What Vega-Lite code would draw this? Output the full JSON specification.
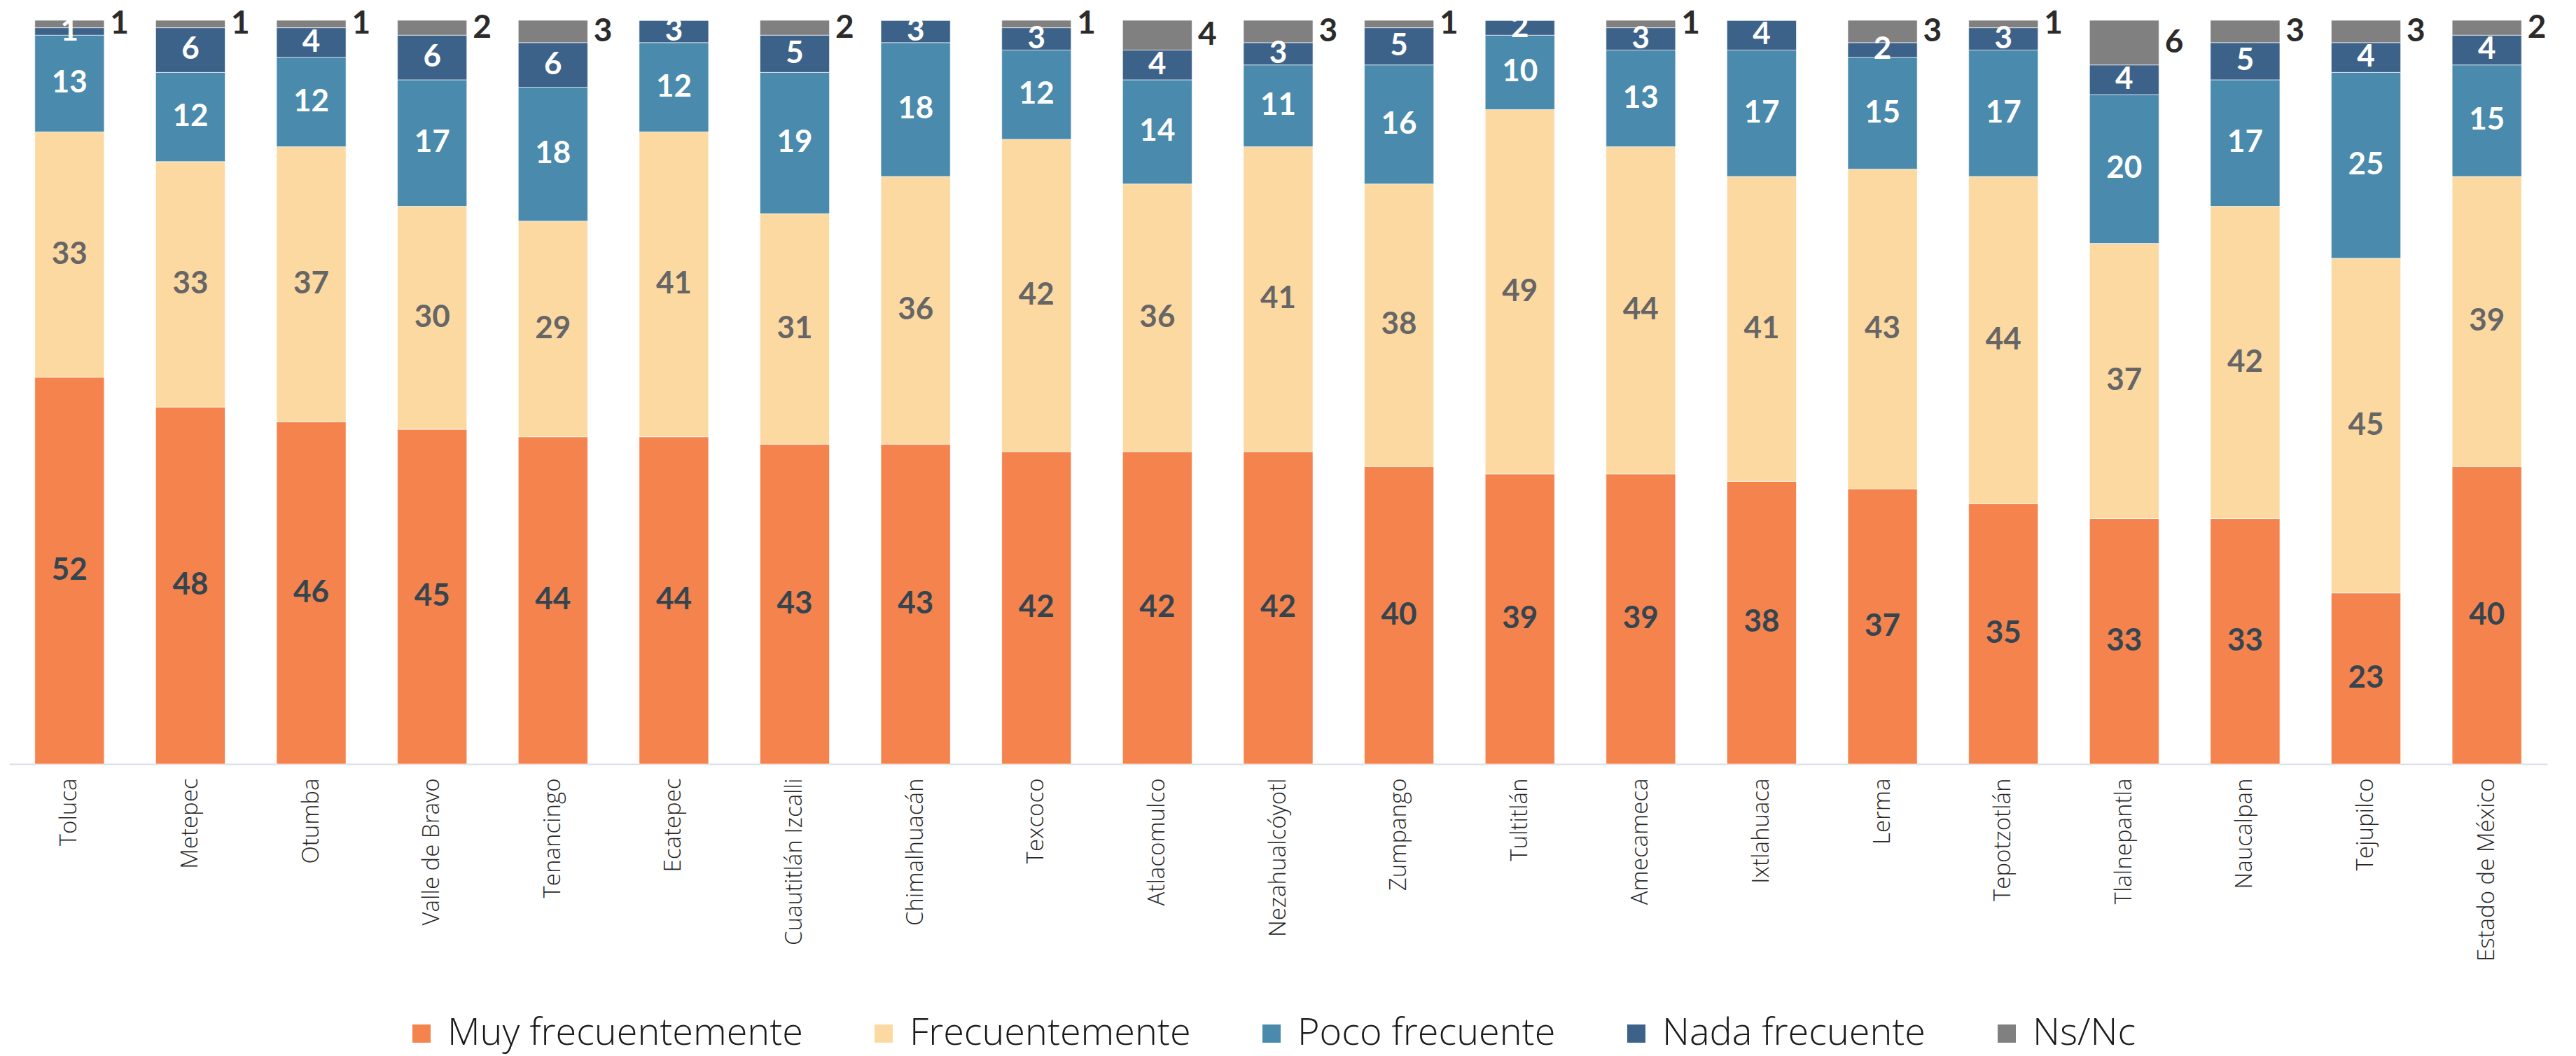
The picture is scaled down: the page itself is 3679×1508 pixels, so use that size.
{
  "$schema": "https://vega.github.io/schema/vega-lite/v6.json",
  "width": 3625,
  "height": 1062,
  "autosize": {"type": "none"},
  "padding": {"left": 13, "top": 29, "right": 41, "bottom": 417},
  "background": "white",
  "config": {
    "view": {"stroke": null},
    "font": "Lato",
    "axis": {"grid": false}
  },
  "data": {
    "values": [
      {"m": "Toluca", "Muy frecuentemente": 52, "Frecuentemente": 33, "Poco frecuente": 13, "Nada frecuente": 1, "Ns/Nc": 1},
      {"m": "Metepec", "Muy frecuentemente": 48, "Frecuentemente": 33, "Poco frecuente": 12, "Nada frecuente": 6, "Ns/Nc": 1},
      {"m": "Otumba", "Muy frecuentemente": 46, "Frecuentemente": 37, "Poco frecuente": 12, "Nada frecuente": 4, "Ns/Nc": 1},
      {"m": "Valle de Bravo", "Muy frecuentemente": 45, "Frecuentemente": 30, "Poco frecuente": 17, "Nada frecuente": 6, "Ns/Nc": 2},
      {"m": "Tenancingo", "Muy frecuentemente": 44, "Frecuentemente": 29, "Poco frecuente": 18, "Nada frecuente": 6, "Ns/Nc": 3},
      {"m": "Ecatepec", "Muy frecuentemente": 44, "Frecuentemente": 41, "Poco frecuente": 12, "Nada frecuente": 3, "Ns/Nc": 0},
      {"m": "Cuautitlán Izcalli", "Muy frecuentemente": 43, "Frecuentemente": 31, "Poco frecuente": 19, "Nada frecuente": 5, "Ns/Nc": 2},
      {"m": "Chimalhuacán", "Muy frecuentemente": 43, "Frecuentemente": 36, "Poco frecuente": 18, "Nada frecuente": 3, "Ns/Nc": 0},
      {"m": "Texcoco", "Muy frecuentemente": 42, "Frecuentemente": 42, "Poco frecuente": 12, "Nada frecuente": 3, "Ns/Nc": 1},
      {"m": "Atlacomulco", "Muy frecuentemente": 42, "Frecuentemente": 36, "Poco frecuente": 14, "Nada frecuente": 4, "Ns/Nc": 4},
      {"m": "Nezahualcóyotl", "Muy frecuentemente": 42, "Frecuentemente": 41, "Poco frecuente": 11, "Nada frecuente": 3, "Ns/Nc": 3},
      {"m": "Zumpango", "Muy frecuentemente": 40, "Frecuentemente": 38, "Poco frecuente": 16, "Nada frecuente": 5, "Ns/Nc": 1},
      {"m": "Tultitlán", "Muy frecuentemente": 39, "Frecuentemente": 49, "Poco frecuente": 10, "Nada frecuente": 2, "Ns/Nc": 0},
      {"m": "Amecameca", "Muy frecuentemente": 39, "Frecuentemente": 44, "Poco frecuente": 13, "Nada frecuente": 3, "Ns/Nc": 1},
      {"m": "Ixtlahuaca", "Muy frecuentemente": 38, "Frecuentemente": 41, "Poco frecuente": 17, "Nada frecuente": 4, "Ns/Nc": 0},
      {"m": "Lerma", "Muy frecuentemente": 37, "Frecuentemente": 43, "Poco frecuente": 15, "Nada frecuente": 2, "Ns/Nc": 3},
      {"m": "Tepotzotlán", "Muy frecuentemente": 35, "Frecuentemente": 44, "Poco frecuente": 17, "Nada frecuente": 3, "Ns/Nc": 1},
      {"m": "Tlalnepantla", "Muy frecuentemente": 33, "Frecuentemente": 37, "Poco frecuente": 20, "Nada frecuente": 4, "Ns/Nc": 6},
      {"m": "Naucalpan", "Muy frecuentemente": 33, "Frecuentemente": 42, "Poco frecuente": 17, "Nada frecuente": 5, "Ns/Nc": 3},
      {"m": "Tejupilco", "Muy frecuentemente": 23, "Frecuentemente": 45, "Poco frecuente": 25, "Nada frecuente": 4, "Ns/Nc": 3},
      {"m": "Estado de México", "Muy frecuentemente": 40, "Frecuentemente": 39, "Poco frecuente": 15, "Nada frecuente": 4, "Ns/Nc": 2}
    ]
  },
  "transform": [
    {"fold": ["Muy frecuentemente", "Frecuentemente", "Poco frecuente", "Nada frecuente", "Ns/Nc"], "as": ["c", "v"]},
    {"lookup": "c", "from": {"data": {"values": [
      {"c": "Muy frecuentemente", "k": 1},
      {"c": "Frecuentemente", "k": 2},
      {"c": "Poco frecuente", "k": 3},
      {"c": "Nada frecuente", "k": 4},
      {"c": "Ns/Nc", "k": 5}
    ]}, "key": "c", "fields": ["k"]}}
  ],
  "encoding": {
    "x": {
      "field": "m",
      "type": "nominal",
      "sort": null,
      "title": null,
      "scale": {"paddingInner": 0.426, "paddingOuter": 0.213},
      "axis": {
        "labelAngle": -90,
        "labelFontSize": 33,
        "labelFont": "Open Sans",
        "labelFontWeight": 300,
        "labelColor": "#262626",
        "labelPadding": 20,
        "ticks": false,
        "domainColor": "#D9DEE3",
        "domainWidth": 2,
        "labelLimit": 0
      }
    },
    "y": {
      "field": "v",
      "type": "quantitative",
      "stack": "zero",
      "scale": {"domain": [0, 100], "nice": false},
      "axis": null
    },
    "order": {"field": "k", "type": "quantitative", "sort": "ascending"}
  },
  "layer": [
    {
      "mark": {"type": "bar", "stroke": "#ffffff", "strokeWidth": 1, "strokeOpacity": 0.6},
      "encoding": {
        "color": {
          "field": "c",
          "type": "nominal",
          "scale": {
            "domain": ["Muy frecuentemente", "Frecuentemente", "Poco frecuente", "Nada frecuente", "Ns/Nc"],
            "range": ["#F4834E", "#FDD9A2", "#498AAD", "#3D628A", "#808080"]
          },
          "legend": {
            "title": null,
            "orient": "none",
            "direction": "horizontal",
            "legendX": 562,
            "legendY": 1420,
            "symbolType": "square",
            "symbolSize": 676,
            "symbolStrokeWidth": 0,
            "labelFontSize": 54,
            "labelFont": "Open Sans",
            "labelFontWeight": 300,
            "labelColor": "#1a1a1a",
            "labelOffset": 10,
            "labelLimit": 0,
            "columnPadding": 88
          }
        }
      }
    },
    {
      "mark": {"type": "text", "font": "Lato", "fontWeight": "bold", "fontSize": 44, "baseline": "middle", "align": "center"},
      "encoding": {
        "y": {"field": "v", "type": "quantitative", "stack": "zero", "bandPosition": 0.5},
        "detail": {"field": "c"},
        "text": {"condition": {"test": "datum.k < 5 && datum.v > 0", "field": "v", "type": "quantitative"}, "value": ""},
        "color": {
          "condition": [
            {"test": "datum.k === 1", "value": "#35454F"},
            {"test": "datum.k === 2", "value": "#666666"}
          ],
          "value": "#ffffff"
        }
      }
    },
    {
      "mark": {"type": "text", "font": "Lato", "fontWeight": "bold", "fontSize": 46, "baseline": "middle", "align": "left", "dx": 58, "color": "#2b2b2b"},
      "encoding": {
        "y": {"field": "v", "type": "quantitative", "stack": "zero", "bandPosition": 0.5},
        "detail": {"field": "c"},
        "text": {"condition": {"test": "datum.k === 5 && datum.v > 0", "field": "v", "type": "quantitative"}, "value": ""}
      }
    }
  ]
}
